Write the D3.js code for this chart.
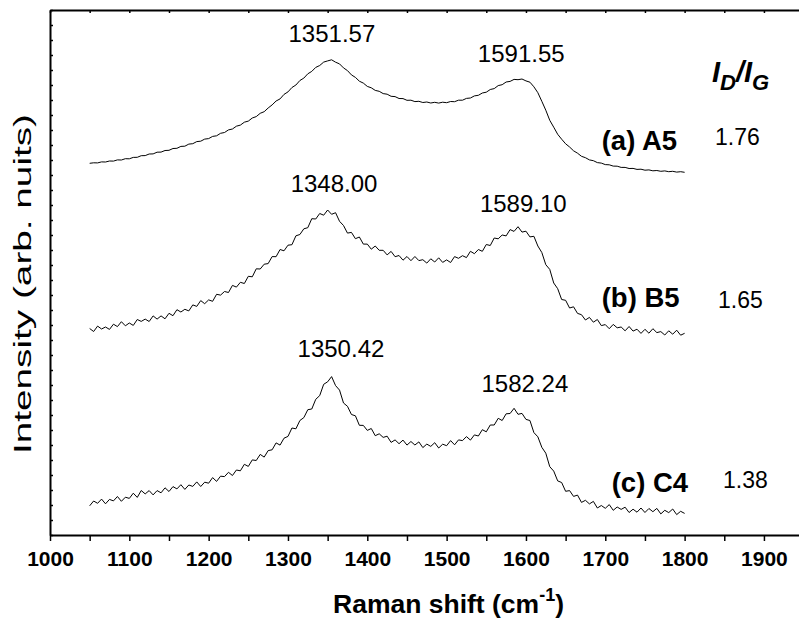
<!DOCTYPE html>
<html><head><meta charset="utf-8">
<script src="https://cdn.jsdelivr.net/npm/d3@7"></script>
<style>
body{margin:0;background:#fff}
text{font-family:"Liberation Sans",Arial,Helvetica,sans-serif;fill:#000}
</style>
</head><body>
<svg id="chart" width="799" height="621"></svg>
<script>
// Raman shift sampling (cm^-1)
const ramanShift = [1050,1055,1060,1065,1070,1075,1080,1085,1090,1095,1100,1105,1110,1115,1120,1125,1130,1135,1140,1145,1150,1155,1160,1165,1170,1175,1180,1185,1190,1195,1200,1205,1210,1215,1220,1225,1230,1235,1240,1245,1250,1255,1260,1265,1270,1275,1280,1285,1290,1295,1300,1305,1310,1315,1320,1325,1330,1335,1340,1345,1350,1355,1360,1365,1370,1375,1380,1385,1390,1395,1400,1405,1410,1415,1420,1425,1430,1435,1440,1445,1450,1455,1460,1465,1470,1475,1480,1485,1490,1495,1500,1505,1510,1515,1520,1525,1530,1535,1540,1545,1550,1555,1560,1565,1570,1575,1580,1585,1590,1595,1600,1605,1610,1615,1620,1625,1630,1635,1640,1645,1650,1655,1660,1665,1670,1675,1680,1685,1690,1695,1700,1705,1710,1715,1720,1725,1730,1735,1740,1745,1750,1755,1760,1765,1770,1775,1780,1785,1790,1795,1800];

// Intensities (arb. units, spectra stacked with offsets)
const intensityA5 = [371.7,372.2,372.1,373.1,373.0,374.0,373.9,375.1,375.0,376.3,376.2,377.6,377.7,379.3,379.4,381.0,381.1,382.8,382.9,384.5,384.7,386.5,386.7,388.6,388.8,390.9,391.3,393.4,393.8,395.9,396.4,398.6,399.2,401.7,402.5,405.1,406.0,408.8,409.9,412.8,413.9,417.0,418.4,421.7,423.3,427.0,430.1,434.0,436.1,440.6,443.1,447.5,450.0,454.5,456.9,461.2,463.6,467.6,469.5,472.9,474.1,475.2,472.8,471.1,467.1,464.4,460.1,457.6,453.8,451.9,448.6,447.2,444.6,443.7,441.4,440.8,438.7,438.4,436.5,436.4,434.7,434.8,433.4,433.7,432.5,433.0,432.0,432.7,431.9,432.8,432.3,433.5,433.3,434.8,434.8,436.6,437.0,439.1,439.7,442.0,442.8,445.5,446.4,449.4,450.3,453.0,453.6,455.6,455.3,456.0,454.1,452.8,448.2,442.3,433.7,424.8,414.7,407.8,400.7,395.8,391.2,388.0,384.2,381.8,378.7,377.3,375.1,374.3,372.4,371.9,370.4,370.2,368.9,368.8,367.6,367.6,366.5,366.6,365.6,365.8,364.8,365.1,364.2,364.5,363.7,364.1,363.3,363.7,362.9,363.3,362.7];

const intensityB5 = [206.5,203.5,208.9,206.0,208.0,205.6,210.8,208.4,213.3,209.2,212.0,209.6,215.5,213.6,215.9,213.5,219.1,215.9,219.1,216.2,221.7,219.3,225.3,223.0,225.7,224.1,230.1,228.6,234.4,231.3,235.1,233.7,240.7,239.9,243.5,242.5,249.6,247.9,252.7,251.5,258.7,258.2,266.2,266.0,270.8,271.4,278.4,278.3,285.5,284.2,289.8,290.3,299.2,300.5,306.2,307.3,316.3,316.0,321.5,319.8,325.0,320.7,322.3,313.7,309.5,301.9,302.6,296.3,298.0,290.9,290.9,285.8,289.0,284.7,284.7,280.1,283.6,278.3,279.5,274.8,278.5,274.3,278.5,274.4,275.3,271.9,276.2,273.0,277.2,272.6,275.1,272.5,278.4,276.7,279.3,277.4,283.7,281.3,285.5,283.7,290.5,289.5,297.0,296.2,300.0,299.1,305.4,303.6,308.3,302.9,303.8,298.1,298.7,289.0,282.5,270.3,265.6,252.0,246.3,235.5,234.7,227.0,228.2,221.6,220.3,215.0,217.6,212.8,215.5,209.4,210.4,206.3,210.6,207.2,208.0,204.2,208.5,203.9,205.8,201.6,205.7,201.8,206.3,202.4,203.4,200.0,204.2,200.8,204.8,199.8,201.7];

const intensityC4 = [29.2,34.0,31.7,35.9,31.2,35.6,34.1,38.5,33.7,37.8,36.6,41.8,37.6,44.5,41.1,44.4,40.1,44.4,42.2,47.2,43.5,48.4,46.1,50.3,45.6,50.0,48.6,53.1,48.5,52.8,51.8,57.4,53.6,58.8,58.4,62.7,59.5,65.0,64.2,70.7,68.6,75.1,74.5,80.6,77.9,84.4,85.2,92.1,89.9,96.8,98.6,107.0,106.2,114.5,117.4,125.3,126.0,135.7,139.4,150.7,153.2,158.4,149.4,144.9,132.0,128.7,120.5,119.2,109.7,109.6,104.6,106.5,99.3,101.2,97.6,98.8,92.6,95.1,91.3,94.9,89.9,93.5,90.0,93.1,87.4,90.9,88.6,92.3,87.0,90.8,89.3,94.4,90.2,95.1,94.4,98.4,94.9,100.1,99.0,105.3,103.2,110.0,110.0,116.7,114.5,121.2,121.5,126.7,120.7,121.6,115.6,114.5,102.4,98.2,87.7,81.8,68.3,63.9,54.1,52.5,43.7,44.4,38.6,39.9,32.6,34.7,31.1,33.6,27.0,29.5,26.7,30.4,24.7,28.0,25.6,27.8,22.5,25.8,22.8,27.0,22.5,26.5,23.3,26.6,21.1,24.7,22.4,26.0,20.4,23.7,21.6];

const sampleNames = ["(a) A5", "(b) B5", "(c) C4"];
const ratioIDIG = ["1.76", "1.65", "1.38"];
const peakD = ["1351.57", "1348.00", "1350.42"];
const peakG = ["1591.55", "1589.10", "1582.24"];
const xTickValues = [1000,1050,1100,1150,1200,1250,1300,1350,1400,1450,1500,1550,1600,1650,1700,1750,1800,1850,1900];
const xLabel = "Raman shift (cm";
const yLabel = "Intensity (arb. nuits)";

const series = [intensityA5, intensityB5, intensityC4];

const svg = d3.select("#chart");
const x = d3.scaleLinear().domain([1000, 1944.2]).range([50, 799]);
const y = d3.scaleLinear().domain([0, 525]).range([535, 10]);

// spectra
const line = d3.line().x((d, i) => x(ramanShift[i])).y(d => y(d));
svg.append("g").selectAll("path").data(series).join("path")
  .attr("d", line).attr("fill", "none").attr("stroke", "#000").attr("stroke-width", 1);

// axes
const gBottom = svg.append("g").attr("transform", "translate(0,535)")
  .call(d3.axisBottom(x).tickValues(xTickValues).tickSize(6).tickSizeOuter(0)
    .tickFormat(d => d % 100 === 0 ? d : ""));
gBottom.selectAll("text").attr("font-size", 21).attr("font-weight", "bold").attr("dy", "1.05em")
  .style("font-family", '"Liberation Sans",Arial,sans-serif');
svg.append("g").attr("transform", "translate(0,10)")
  .call(d3.axisBottom(x).tickValues(xTickValues).tickSize(3).tickSizeOuter(0).tickFormat(""));
svg.append("g").attr("transform", "translate(50,0)")
  .call(d3.axisRight(y).tickValues(d3.range(0, 526, 15)).tickSize(3).tickSizeOuter(0).tickFormat(""));
svg.selectAll(".domain").attr("stroke", "#000").attr("stroke-width", 2);
svg.selectAll(".tick line").attr("stroke", "#000").attr("stroke-width", 1.5);

// peak labels
const peakLayout = [
  {dD: 3, yD: 41.7, dG: 2, yG: 61.7},
  {dD: 8, yD: 192, dG: 6, yG: 211.7},
  {dD: 13, yD: 356.7, dG: 13, yG: 391.7}
];
peakLayout.forEach((p, i) => {
  svg.append("text").attr("x", x(+peakD[i]) + p.dD).attr("y", p.yD)
    .attr("text-anchor", "middle").attr("font-size", 24).text(peakD[i]);
  svg.append("text").attr("x", x(+peakG[i]) + p.dG).attr("y", p.yG)
    .attr("text-anchor", "middle").attr("font-size", 24).text(peakG[i]);
});

// sample names and ratios
const nameLayout = [{x: 601.7, y: 150, rx: 715, ry: 145}, {x: 601.7, y: 306.7, rx: 718, ry: 308}, {x: 611.7, y: 491.7, rx: 723, ry: 488.3}];
nameLayout.forEach((p, i) => {
  svg.append("text").attr("x", p.x).attr("y", p.y).attr("font-size", 27.5).attr("font-weight", "bold").text(sampleNames[i]);
  svg.append("text").attr("x", p.rx).attr("y", p.ry).attr("font-size", 23).text(ratioIDIG[i]);
});

// I_D/I_G header
const hdr = svg.append("text").attr("x", 712).attr("y", 81.7).attr("font-size", 29)
  .attr("font-weight", "bold").attr("font-style", "italic");
hdr.append("tspan").text("I");
hdr.append("tspan").attr("font-size", 22).attr("dy", 8).text("D");
hdr.append("tspan").attr("dy", -8).text("/I");
hdr.append("tspan").attr("font-size", 22).attr("dy", 8).text("G");

// axis titles
const xt = svg.append("text").attr("x", 333).attr("y", 613).attr("font-size", 26.5).attr("font-weight", "bold");
xt.append("tspan").text(xLabel);
xt.append("tspan").attr("font-size", 18).attr("dy", -12).text("-1");
xt.append("tspan").attr("dy", 12).text(")");

svg.append("text").attr("transform", "translate(31,284) rotate(-90)").attr("text-anchor", "middle")
  .attr("font-size", 23).attr("textLength", 340).attr("lengthAdjust", "spacingAndGlyphs").text(yLabel);
</script>
</body></html>
